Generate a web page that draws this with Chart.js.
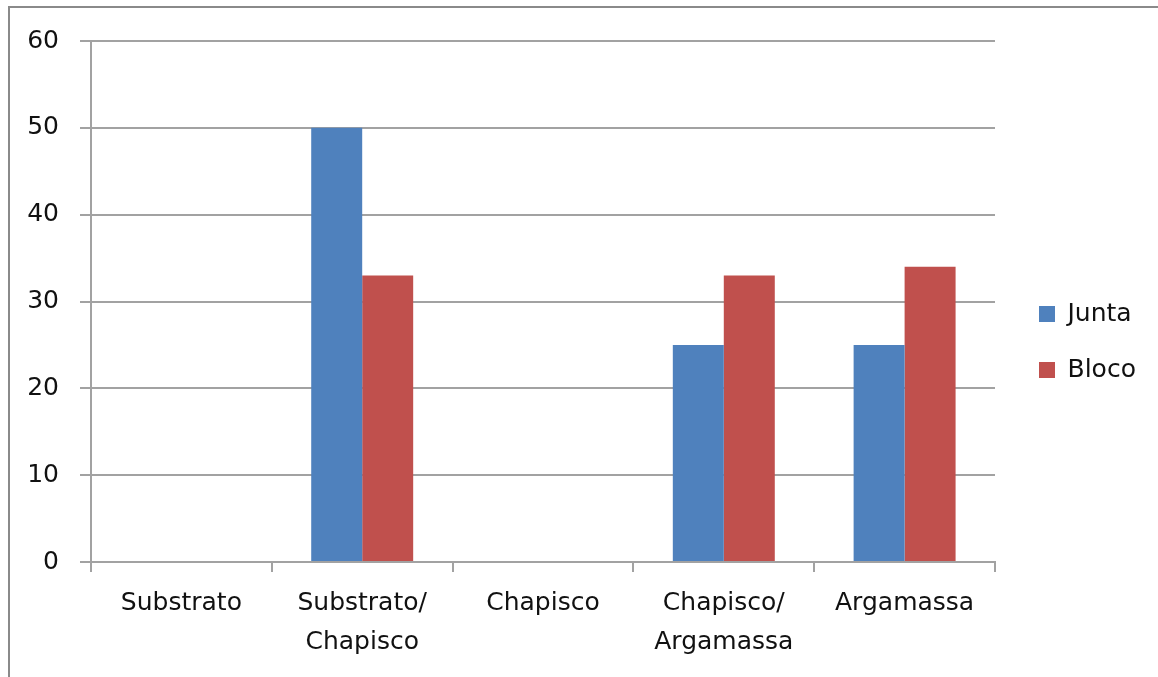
<!DOCTYPE html>
<html>
<head>
<meta charset="utf-8">
<script src="https://cdn.jsdelivr.net/npm/chart.js@4/dist/chart.umd.min.js"></script>
<style>
  html, body { margin: 0; padding: 0; background: #ffffff; }
  #wrap { position: relative; width: 1158px; height: 677px; overflow: hidden; }
  #frame { position: absolute; left: 8px; top: 6px; width: 1200px; height: 700px;
           border-left: 2px solid #8a8a8a; border-top: 2px solid #8a8a8a; }
  #c { position: absolute; left: 0; top: 0; }
</style>
</head>
<body>
<div id="wrap">
  <div id="frame"></div>
  <canvas id="c" width="1158" height="677"></canvas>
</div>
<script>
// Categories (multi-line labels as arrays)
const categories = [
  'Substrato',
  ['Substrato/', 'Chapisco'],
  'Chapisco',
  ['Chapisco/', 'Argamassa'],
  'Argamassa'
];
const juntaValues = [0, 50, 0, 25, 25];
const blocoValues = [0, 33, 0, 33, 34];
const yTicks = [0, 10, 20, 30, 40, 50, 60];

const FONT = "'DejaVu Sans', sans-serif";
const GRID = '#a2a2a2';
const LEGEND_SHIFT_Y = -17;

// keep the legend column at a fixed width and nudge it into place
const plotFrame = {
  id: 'plotFrame',
  afterInit(chart) {
    const lg = chart.legend;
    if (lg) {
      const fit = lg.fit.bind(lg);
      lg.fit = function () { fit(); this.width = 163; };
    }
  },
  afterLayout(chart) {
    const lg = chart.legend;
    if (lg) {
      lg.left += 13; lg.right += 13;
      lg.top += LEGEND_SHIFT_Y; lg.bottom += LEGEND_SHIFT_Y;
    }
  }
};

new Chart(document.getElementById('c'), {
  type: 'bar',
  data: {
    labels: categories,
    datasets: [
      { label: 'Junta', data: juntaValues, backgroundColor: '#4F81BD', borderWidth: 0 },
      { label: 'Bloco', data: blocoValues, backgroundColor: '#C0504D', borderWidth: 0 }
    ]
  },
  options: {
    responsive: false,
    animation: false,
    devicePixelRatio: 1,
    layout: { padding: { top: 41, left: 0, right: 0, bottom: 0 } },
    datasets: { bar: { categoryPercentage: 0.564, barPercentage: 1 } },
    scales: {
      x: {
        offset: true,
        grid: { display: true, drawOnChartArea: false, drawTicks: true, tickLength: 10, color: GRID, lineWidth: 2, offset: true },
        border: { display: true, color: GRID, width: 2 },
        ticks: { color: '#111', font: { family: FONT, size: 25, lineHeight: 1.56 }, padding: 12, maxRotation: 0, autoSkip: false },
        afterFit(scale) { scale.height = 115; }
      },
      y: {
        min: 0, max: 60,
        afterBuildTicks(scale) { scale.ticks = yTicks.map(v => ({ value: v })); },
        grid: { color: GRID, lineWidth: 2, tickLength: 11 },
        border: { display: true, color: GRID, width: 2 },
        ticks: { color: '#111', font: { family: FONT, size: 25 }, padding: 21 },
        afterFit(scale) { scale.width = 91; }
      }
    },
    plugins: {
      legend: {
        position: 'right',
        align: 'center',
        labels: { boxWidth: 16, boxHeight: 16, padding: 31, color: '#111', font: { family: FONT, size: 25 } }
      },
      tooltip: { enabled: false }
    }
  },
  plugins: [plotFrame]
});
</script>
</body>
</html>
